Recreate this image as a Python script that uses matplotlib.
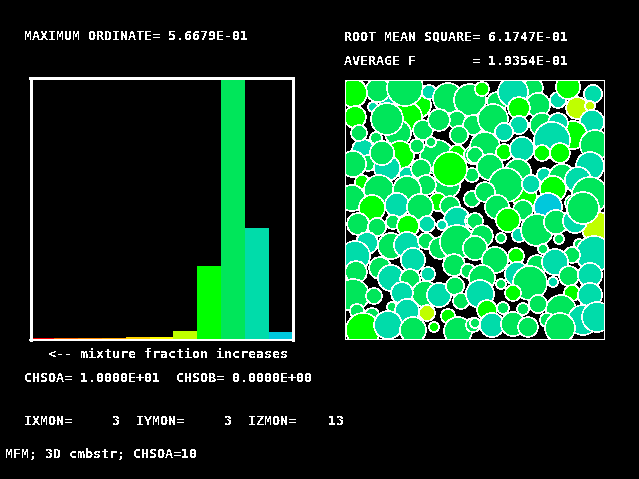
import matplotlib
matplotlib.use("Agg")
import matplotlib.pyplot as plt
from matplotlib.patches import Circle

W, H = 639, 479

# histogram, left to right
bar_values = [0.005, 0.0045, 0.0045, 0.0045, 0.0072, 0.0072, 0.0195, 0.159, 0.5668, 0.241, 0.0173]
bar_colors = ['#ff0000', '#ff6a00', '#ff8c00', '#ffa500', '#ffd500', '#ffff00',
              '#bfff00', '#00ff00', '#00e65a', '#00dcaa', '#00c8dc']
max_ordinate = 0.5668

# droplets, back to front
circle_x = [390, 373, 418, 407, 398, 437, 400, 363, 368, 407,
            362, 457, 472, 423, 387, 378, 405, 353, 429, 448,
            470, 355, 387, 457, 439, 473, 359, 376, 459, 431,
            417, 382, 353, 447, 421, 473, 352, 379, 426, 450,
            407, 397, 372, 438, 420, 450, 472, 358, 377, 393,
            408, 427, 457, 442, 472, 367, 355, 356, 391, 407,
            426, 440, 457, 413, 454, 380, 391, 410, 428, 468,
            353, 374, 425, 402, 439, 455, 475, 461, 392, 407,
            357, 372, 427, 448, 363, 388, 413, 434, 458, 473,
            482, 497, 533, 513, 538, 519, 558, 568, 593, 577,
            590, 493, 519, 542, 592, 573, 558, 595, 485, 504,
            552, 542, 560, 504, 522, 475, 490, 525, 518, 544,
            590, 562, 578, 590, 506, 531, 553, 485, 548, 497,
            523, 573, 598, 508, 475, 482, 519, 501, 537, 556,
            575, 583, 559, 579, 594, 475, 543, 495, 516, 537,
            572, 555, 569, 590, 517, 530, 553, 501, 513, 482,
            480, 487, 572, 590, 538, 561, 503, 523, 583, 597,
            492, 513, 528, 547, 560, 475]
circle_y = [102, 107, 105, 117, 133, 157, 155, 150, 163, 175,
            182, 153, 175, 130, 168, 90, 88, 93, 92, 98,
            100, 117, 119, 120, 120, 125, 133, 138, 135, 142,
            146, 153, 164, 185, 169, 155, 198, 190, 185, 169,
            190, 205, 208, 202, 207, 206, 199, 224, 227, 222,
            226, 224, 220, 225, 221, 243, 256, 272, 246, 245,
            241, 248, 242, 260, 265, 268, 278, 279, 274, 271,
            295, 296, 294, 293, 295, 286, 293, 301, 307, 311,
            311, 315, 313, 316, 330, 325, 330, 327, 331, 325,
            89, 102, 88, 92, 105, 108, 100, 87, 94, 108,
            106, 119, 125, 125, 122, 135, 123, 145, 147, 132,
            140, 153, 153, 152, 149, 155, 167, 198, 172, 175,
            166, 177, 180, 195, 185, 184, 189, 192, 207, 207,
            210, 203, 228, 220, 221, 236, 235, 238, 230, 222,
            221, 208, 239, 244, 254, 248, 249, 260, 256, 265,
            255, 262, 276, 275, 274, 283, 282, 284, 293, 278,
            294, 310, 293, 295, 304, 310, 308, 309, 320, 317,
            325, 324, 327, 320, 328, 323]
circle_r = [10, 5, 13, 15, 13, 17, 14, 11, 8, 8,
            7, 8, 7, 10, 13, 12, 18, 14, 7, 15,
            16, 11, 16, 9, 11, 10, 8, 6, 9, 5,
            7, 12, 13, 13, 10, 9, 13, 15, 10, 17,
            14, 12, 13, 9, 13, 10, 8, 11, 9, 7,
            11, 8, 13, 5, 7, 11, 15, 11, 13, 13,
            8, 11, 17, 12, 11, 11, 13, 10, 7, 7,
            16, 8, 13, 11, 12, 9, 9, 8, 5, 12,
            7, 7, 8, 7, 17, 14, 13, 5, 14, 7,
            7, 10, 10, 15, 12, 11, 8, 12, 9, 11,
            5, 15, 9, 12, 12, 14, 10, 15, 15, 9,
            18, 8, 10, 8, 12, 8, 13, 12, 13, 7,
            14, 13, 13, 18, 17, 9, 13, 10, 14, 12,
            10, 8, 16, 12, 8, 11, 7, 5, 16, 12,
            12, 16, 5, 5, 18, 12, 5, 13, 8, 10,
            8, 13, 10, 12, 12, 17, 5, 5, 8, 13,
            14, 10, 8, 12, 9, 15, 6, 6, 15, 15,
            12, 12, 10, 7, 15, 5]
circle_kind = list("TTLLGGLTGT"
                   "LLGGTGGLTG"
                   "GLGGGGGGGG"
                   "GGGGGGGGGL"
                   "GTLLGGGGGG"
                   "LTTTGTTGGT"
                   "GGGTGGTGTG"
                   "GGGTTGTGGT"
                   "GGYLLTGLGG"
                   "LGGTGLTLTY"
                   "YGTGTLTGGT"
                   "TLLLTGGLGT"
                   "TGTGGTLGBG"
                   "GGYLGGTGGG"
                   "TGGGTGGGLG"
                   "GTGTTGTGLG"
                   "TLLTGGGGTT"
                   "TGGGGG")
kind_colors = {'G': '#00e65a', 'L': '#00ff00', 'T': '#00dcaa', 'Y': '#bfff00', 'B': '#00c8dc'}

labels = [
    (24.4, 40, 'MAXIMUM ORDINATE= 5.6679E-01'),
    (344.4, 40, 'ROOT MEAN SQUARE= 6.1747E-01'),
    (344.4, 65, 'AVERAGE F       = 1.9354E-01'),
    (48.4, 358, '<-- mixture fraction increases'),
    (24.4, 382, 'CHSOA= 1.0000E+01  CHSOB= 0.0000E+00'),
    (24.4, 425, 'IXMON=     3  IYMON=     3  IZMON=    13'),
    (5.4, 458, 'MFM; 3D cmbstr; CHSOA=10'),
]

plt.rcParams['text.antialiased'] = False
plt.rcParams['font.family'] = ['DejaVu Sans Mono']


# axes placed by pixel box
def pixel_axes(fig, x0, y0, x1, y1):
    ax = fig.add_axes([x0 / W, 1 - y1 / H, (x1 - x0) / W, (y1 - y0) / H])
    ax.set_facecolor('black')
    ax.set_xticks([])
    ax.set_yticks([])
    for s in ax.spines.values():
        s.set_color('white')
        s.set_antialiased(False)
    return ax


fig = plt.figure(figsize=(W / 100, H / 100), dpi=100, facecolor='black')

# histogram
ax = pixel_axes(fig, 30.5, 77.5, 292.5, 340)
for s in ax.spines.values():
    s.set_linewidth(2.16)
ax.spines['bottom'].set_linewidth(1.44)
ax.bar(range(len(bar_values)), bar_values, width=1.0, color=bar_colors, antialiased=False)
ax.set_xlim(-0.5, len(bar_values) - 0.5)
ax.set_ylim(0, max_ordinate)

# droplet field
ax2 = pixel_axes(fig, 345, 80, 603.5, 338.5)
for s in ax2.spines.values():
    s.set_linewidth(0.5)
ax2.set_xlim(345, 603.5)
ax2.set_ylim(338.5, 80)
for x, y, r, k in zip(circle_x, circle_y, circle_r, circle_kind):
    ax2.add_patch(Circle((x, y), r, facecolor=kind_colors[k], edgecolor='white',
                         linewidth=0.3, antialiased=False))

for x, y, s in labels:
    fig.text(x / W, 1 - y / H, s, color='white', fontsize=9.6, weight='bold', va='baseline', ha='left')

fig.savefig('out.png', dpi=100, facecolor='black')
